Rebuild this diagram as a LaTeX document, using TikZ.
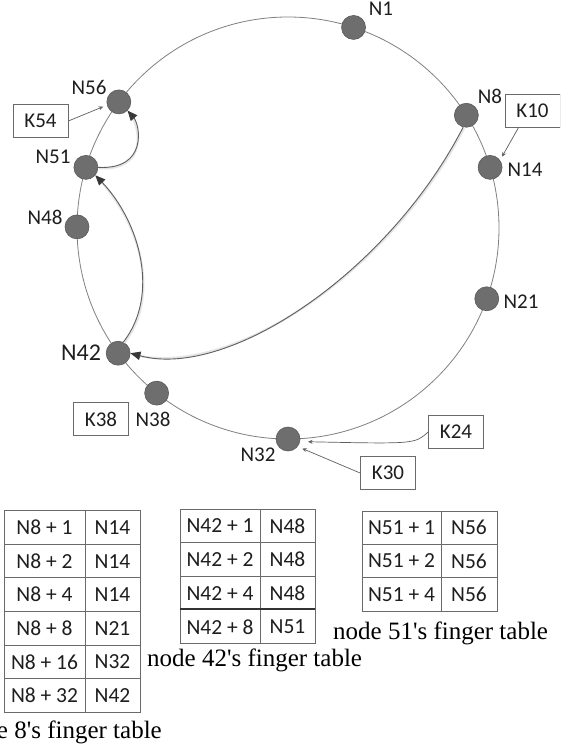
\documentclass[tikz,border=0pt]{standalone}
\usepackage{fontspec}
\setmainfont{Carlito}
\newfontfamily\capfont{Liberation Serif}
\usetikzlibrary{arrows.meta,calc}
\definecolor{ringgray}{HTML}{808080}
\definecolor{peerfill}{HTML}{6E6E6E}
\definecolor{peeredge}{HTML}{5A5A5A}
\definecolor{linkgray}{HTML}{5E5E5E}
\definecolor{tipgray}{HTML}{383838}
\definecolor{txt}{HTML}{1E1E1E}
\definecolor{gridgray}{HTML}{6A6A6A}
\tikzset{
  peer/.style={circle, fill=peerfill, draw=peeredge, line width=0.6pt, minimum size=24pt, inner sep=0pt},
  plabel/.style={text=txt, inner sep=0pt, font=\fontsize{21}{25}\selectfont},
  keybox/.style={draw=gridgray, line width=0.8pt, fill=white, minimum width=55pt, minimum height=33pt, inner sep=0pt, text=txt, font=\fontsize{21}{25}\selectfont},
  cell/.style={text=txt, inner sep=0pt, font=\fontsize{21.5}{25}\selectfont},
  tab/.style={draw=gridgray, line width=1pt},
  caption/.style={text=black, inner sep=0pt, font=\capfont\fontsize{25}{30}\selectfont},
  finger/.style={draw=linkgray, line width=0.9pt, -{Triangle[length=10pt,width=8.5pt,color=tipgray]},
    preaction={draw=black!10, line width=2.2pt, arrows=-, transform canvas={shift={(0.9pt,-0.9pt)}}}},
  keyptr/.style={draw=linkgray, line width=0.7pt, -{Stealth[length=4.5pt,width=4pt]}},
}
\begin{document}
\begin{tikzpicture}[x=1pt,y=-1pt]
\clip (0,0) rectangle (560,749);
\fill[white] (0,0) rectangle (560,749);

% the identifier ring
\coordinate (ctr) at (288,228);
\draw[ringgray, line width=0.8pt] (ctr) circle[radius=211pt];

% peers on the ring
\foreach \name/\ang in {n1/71.9, n8/32.3, n14/16.7, n21/-19.6, n32/-90,
                        n38/-128.5, n42/216.4, n48/179.7, n51/163.3, n56/143.3}
  \path (ctr) ++(\ang:211pt) node[peer] (\name) {};

% peer labels
\node[plabel] (l1)  at (381,9)   {N1};
\node[plabel] (l8)  at (490,96)  {N8};
\node[plabel] (l14) at (525,170) {N14};
\node[plabel] (l21) at (521,302) {N21};
\node[plabel] (l32) at (258,455) {N32};
\node[plabel] (l38) at (153,419) {N38};
\node[plabel, font=\fontsize{24}{28}\selectfont] (l42) at (81,353) {N42};
\node[plabel] (l48) at (45,217)  {N48};
\node[plabel] (l51) at (53,157)  {N51};
\node[plabel] (l56) at (89,87)   {N56};

% keys
\node[keybox] (k54) at (40.5,121) {K54};
\node[keybox] (k10) at (532.5,110.5) {K10};
\node[keybox] (k38) at (101,419) {K38};
\node[keybox] (k24) at (456,432) {K24};
\node[keybox] (k30) at (388,473) {K30};

\draw[keyptr, shorten >=4pt] (k54.east) -- (n56.195);
\draw[keyptr, shorten >=4pt] ($(k10.south west)+(14pt,0)$) -- (n14.36);
\draw[keyptr, shorten >=8pt] (k24.west) .. controls (415,444) .. (n32.-12);
\draw[keyptr, shorten >=5pt] (k30.west) -- (n32.-38);

% lookup hops
\draw[finger] (n8.-105) .. controls (390,270) and (230,380) .. (n42.east);
\draw[finger] (n42.65) .. controls (160,295) and (140,222) .. (n51.-40);
\draw[finger] (n51.east) .. controls (148,170) and (140,125) .. (n56.-45);

% finger table of node 8
\draw[tab] (4,510.7) rectangle (140,712.3);
\draw[tab] (85,510.7) -- (85,712.3);
\foreach \r in {1,...,5} \draw[tab] (4,{510.7+33.6*\r}) -- (140,{510.7+33.6*\r});
\foreach [count=\i from 0] \k/\v in {1/N14, 2/N14, 4/N14, 8/N21, 16/N32, 32/N42} {
  \node[cell] (ta\i) at (44.5,{527.5+33.6*\i}) {N8 + \k};
  \node[cell] (tb\i) at (112.5,{527.5+33.6*\i}) {\v};
}
\node[caption, anchor=base east] (c8) at (162,738) {node 8's finger table};

% finger table of node 42
\draw[tab] (180,509) rectangle (315,643.7);
\draw[tab] (260,509) -- (260,643.7);
\draw[tab] (180,542.3) -- (315,542.3);
\draw[tab] (180,576) -- (315,576);
\draw[tab, draw=black!80, line width=1.8pt] (180,609.3) -- (315,609.3);
\foreach [count=\i from 0] \k/\v in {1/N48, 2/N48, 4/N48, 8/N51} {
  \node[cell] (tc\i) at (220,{525.8+33.7*\i}) {N42 + \k};
  \node[cell] (td\i) at (287.5,{525.8+33.7*\i}) {\v};
}
\node[caption, anchor=base west] (c42) at (147,666.7) {node 42's finger table};

% finger table of node 51
\draw[tab] (362,511) rectangle (497,611);
\draw[tab] (441,511) -- (441,611);
\draw[tab] (362,544.3) -- (497,544.3);
\draw[tab] (362,577.7) -- (497,577.7);
\foreach [count=\i from 0] \k/\v in {1/N56, 2/N56, 4/N56} {
  \node[cell] (te\i) at (401.5,{527.7+33.3*\i}) {N51 + \k};
  \node[cell] (tf\i) at (469,{527.7+33.3*\i}) {\v};
}
\node[caption, anchor=base west] (c51) at (333,639) {node 51's finger table};
\end{tikzpicture}
\end{document}
